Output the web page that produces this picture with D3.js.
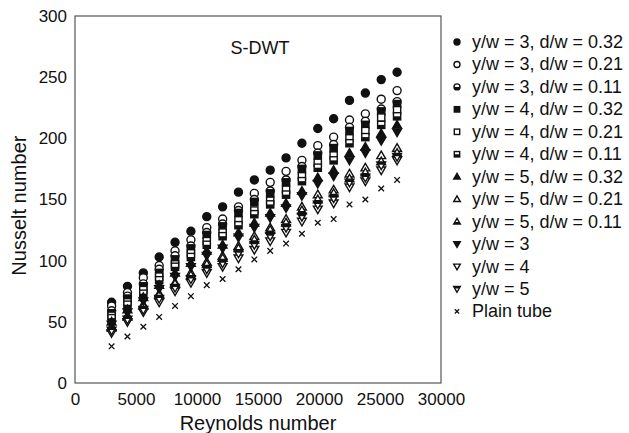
<!DOCTYPE html>
<html>
<head>
<meta charset="utf-8">
<script src="https://cdn.jsdelivr.net/npm/d3@7"></script>
<style>
  body { margin: 0; background: #fff; }
  svg { font-family: "Liberation Sans", Arial, Helvetica, sans-serif; }
</style>
</head>
<body>
<div id="chart"></div>
<script>
// Reynolds number of each measured column
const reynolds = [3000, 4300, 5600, 6900, 8200, 9500, 10800, 12100, 13400, 14700,
  16000, 17300, 18600, 19900, 21200, 22500, 23800, 25100, 26400]

// Nusselt number, one array per series
const y3d32 = [66, 79, 90, 103, 115, 124, 136, 144, 156, 166, 174, 184, 196, 208, 216, 231, 237, 248, 254]
const y3d21 = [63, 74, 86, 96, 108, 117, 127, 134, 144, 155, 164, 173, 182, 194, 201, 215, 220, 232, 239]
const y3d11 = [59, 71, 81, 93, 104, 112, 123, 130, 141, 150, 157, 166, 177, 188, 195, 209, 214, 224, 230]
const y4d32 = [57, 69, 79, 90, 101, 110, 121, 128, 139, 148, 155, 164, 175, 186, 192, 206, 211, 222, 228]
const y4d21 = [55, 66, 76, 87, 97, 106, 116, 123, 133, 141, 149, 158, 169, 180, 186, 200, 206, 217, 223]
const y4d11 = [53, 64, 73, 84, 95, 103, 113, 120, 129, 138, 146, 154, 165, 176, 182, 196, 201, 211, 218]
const y5d32 = [50, 60, 70, 80, 90, 98, 108, 113, 123, 131, 139, 147, 157, 168, 174, 188, 193, 204, 211]
const y5d21 = [46, 55, 64, 73, 82, 90, 99, 104, 112, 120, 127, 134, 144, 154, 158, 171, 176, 186, 192]
const y5d11 = [45, 54, 63, 72, 81, 88, 97, 102, 110, 117, 125, 131, 141, 150, 155, 167, 172, 181, 188]
const yw3 = [48, 58, 67, 77, 87, 95, 104, 110, 119, 127, 135, 143, 153, 163, 169, 182, 188, 198, 205]
const yw4 = [41, 50, 58, 66, 75, 82, 90, 95, 102, 109, 116, 123, 132, 142, 147, 160, 165, 174, 182]
const yw5 = [43, 52, 60, 69, 78, 85, 93, 98, 106, 113, 120, 127, 136, 146, 151, 164, 168, 178, 185]
const plainTube = [30, 38, 46, 54, 63, 71, 80, 85, 93, 101, 108, 114, 122, 131, 134, 146, 150, 159, 166]

const seriesLabels = ['y/w = 3, d/w = 0.32', 'y/w = 3, d/w = 0.21', 'y/w = 3, d/w = 0.11',
  'y/w = 4, d/w = 0.32', 'y/w = 4, d/w = 0.21', 'y/w = 4, d/w = 0.11',
  'y/w = 5, d/w = 0.32', 'y/w = 5, d/w = 0.21', 'y/w = 5, d/w = 0.11',
  'y/w = 3', 'y/w = 4', 'y/w = 5', 'Plain tube']
const seriesValues = [y3d32, y3d21, y3d11, y4d32, y4d21, y4d11, y5d32, y5d21, y5d11, yw3, yw4, yw5, plainTube]

const xTicks = [0, 5000, 10000, 15000, 20000, 25000, 30000]
const yTicks = [0, 50, 100, 150, 200, 250, 300]

// marker shape and fill per series
const shapes = ['circle', 'circle', 'circle', 'square', 'square', 'square',
  'up', 'up', 'up', 'down', 'down', 'down', 'cross']
const fills = ['full', 'none', 'half', 'full', 'none', 'half',
  'full', 'none', 'half', 'full', 'none', 'half', 'none']

const width = 629
const height = 433
const margin = { top: 16, right: 188, bottom: 50, left: 75 }
const ink = '#111'

const svg = d3.select('#chart').append('svg')
  .attr('width', width)
  .attr('height', height)

const x = d3.scaleLinear().domain([0, 30000]).range([margin.left, width - margin.right])
const y = d3.scaleLinear().domain([0, 300]).range([height - margin.bottom, margin.top])

// frame
svg.append('rect')
  .attr('x', x(0)).attr('y', y(300))
  .attr('width', x(30000) - x(0)).attr('height', y(0) - y(300))
  .attr('fill', 'none').attr('stroke', '#555').attr('stroke-width', 1.2)

// inward ticks
const xAxis = svg.append('g').attr('transform', 'translate(0,' + y(0) + ')')
xAxis.call(d3.axisBottom(x).tickValues(d3.range(0, 30001, 2500)).tickSize(-3).tickFormat(''))
xAxis.call(d3.axisBottom(x).tickValues(xTicks.slice(1, -1)).tickSize(-5).tickFormat(''))
xAxis.call(d3.axisBottom(x).tickValues(xTicks).tickSize(0).tickPadding(10).tickFormat(d3.format('d')))
xAxis.selectAll('.domain').remove()

const yAxis = svg.append('g').attr('transform', 'translate(' + x(0) + ',0)')
yAxis.call(d3.axisLeft(y).tickValues(d3.range(25, 300, 25)).tickSize(-4).tickFormat(''))
yAxis.call(d3.axisLeft(y).tickValues(yTicks).tickSize(0).tickPadding(8).tickFormat(d3.format('d')))
yAxis.selectAll('.domain').remove()

svg.selectAll('.tick line').attr('stroke', '#555').attr('stroke-width', 1.2)
svg.selectAll('.tick text').attr('font-size', 17).attr('fill', ink)
  .attr('font-family', '"Liberation Sans", Arial, sans-serif')

// axis titles
svg.append('text')
  .attr('x', x(15000)).attr('y', 430)
  .attr('text-anchor', 'middle').attr('font-size', 20).attr('fill', ink)
  .text('Reynolds number')

svg.append('text')
  .attr('transform', 'translate(26,' + y(145) + ') rotate(-90)')
  .attr('text-anchor', 'middle').attr('font-size', 20).attr('fill', ink)
  .text('Nusselt number')

svg.append('text')
  .attr('x', 260).attr('y', 54)
  .attr('text-anchor', 'middle').attr('font-size', 18).attr('fill', ink)
  .text('S-DWT')

function drawMarker(g, shape, fill, r) {
  const sw = 1.4
  const body = fill === 'full' ? ink : '#fff'
  if (shape === 'circle') {
    g.append('circle').attr('r', r).attr('fill', body).attr('stroke', ink).attr('stroke-width', sw)
    if (fill === 'half') {
      g.append('path').attr('d', `M${-r},0A${r},${r} 0 0 0 ${r},0Z`).attr('fill', ink)
    }
  } else if (shape === 'square') {
    const a = r * 1.8
    g.append('rect').attr('x', -a / 2).attr('y', -a / 2).attr('width', a).attr('height', a)
      .attr('fill', body).attr('stroke', ink).attr('stroke-width', sw)
    if (fill === 'half') {
      g.append('rect').attr('x', -a / 2).attr('y', 0).attr('width', a).attr('height', a / 2).attr('fill', ink)
    }
  } else if (shape === 'up' || shape === 'down') {
    const s = shape === 'up' ? 1 : -1
    const top = -r * 1.1 * s
    const base = r * 0.8 * s
    const hw = r * 1.1
    g.append('path').attr('d', `M0,${top}L${hw},${base}L${-hw},${base}Z`)
      .attr('fill', body).attr('stroke', ink).attr('stroke-width', sw).attr('stroke-linejoin', 'miter')
    if (fill === 'half') {
      const mid = base * 0.15
      const w = hw * (mid - top) / (base - top)
      g.append('path').attr('d', `M${-w},${mid}L${w},${mid}L${hw},${base}L${-hw},${base}Z`).attr('fill', ink)
    }
  } else {
    const c = r * 0.7
    g.append('path').attr('d', `M${-c},${-c}L${c},${c}M${-c},${c}L${c},${-c}`)
      .attr('stroke', ink).attr('stroke-width', 1.3).attr('fill', 'none')
  }
}

// data points
seriesValues.forEach((vals, si) => {
  svg.append('g').attr('class', 'series')
    .selectAll('g.pt')
    .data(vals.map((v, i) => [reynolds[i], v]))
    .join('g')
    .attr('class', 'pt')
    .attr('transform', d => 'translate(' + [x(d[0]), y(d[1])] + ')')
    .each(function () { drawMarker(d3.select(this), shapes[si], fills[si], 4) })
})

// legend
const legend = svg.append('g').attr('transform', 'translate(457,42)')
const item = legend.selectAll('g.item')
  .data(seriesLabels)
  .join('g')
  .attr('class', 'item')
  .attr('transform', (d, i) => 'translate(0,' + i * 22.45 + ')')
item.each(function (d, i) { drawMarker(d3.select(this), shapes[i], fills[i], 3) })
item.append('text')
  .attr('x', 15).attr('y', 6)
  .attr('font-size', 18).attr('fill', ink)
  .text(d => d)
</script>
</body>
</html>
